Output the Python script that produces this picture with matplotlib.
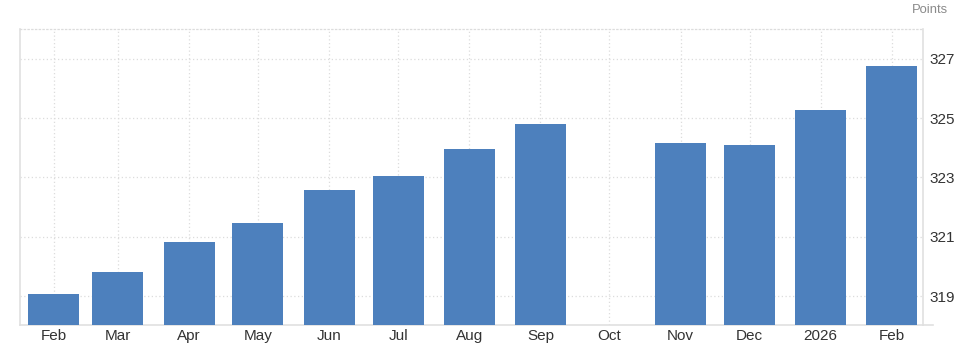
import datetime as dt
import numpy as np
import matplotlib
matplotlib.use('Agg')
import matplotlib.pyplot as plt
import matplotlib.dates as mdates
from matplotlib.lines import Line2D

# monthly index values, Oct 2025 missing
months = ['2025-02-01', '2025-03-01', '2025-04-01', '2025-05-01', '2025-06-01',
          '2025-07-01', '2025-08-01', '2025-09-01', '2025-10-01', '2025-11-01',
          '2025-12-01', '2026-01-01', '2026-02-01']
values = [319.08, 319.83, 320.81, 321.45, 322.57, 323.04, 323.95, 324.80,
          np.nan, 324.15, 324.08, 325.26, 326.77]
tick_labels = ['Feb', 'Mar', 'Apr', 'May', 'Jun', 'Jul', 'Aug', 'Sep',
               'Oct', 'Nov', 'Dec', '2026', 'Feb']
y_ticks = [319, 321, 323, 325, 327]

BAR_COLOR = '#4d80bd'
GRID_COLOR = '#dcdcdc'
TEXT_COLOR = '#333333'

plt.rcParams['font.family'] = ['Liberation Sans', 'DejaVu Sans']

dates = [dt.datetime.strptime(m, '%Y-%m-%d') for m in months]
x = mdates.date2num(dates)

fig = plt.figure(figsize=(9.6, 3.58), dpi=100)
ax = fig.add_axes([0.0208, 0.0922, 0.9406, 0.8268])

ax.bar(x, values, width=22.2, color=BAR_COLOR, zorder=3)

ax.set_xlim(x[0] - 14.6, x[-1] + 13.5)
ax.set_ylim(318.03, 328.0)

ax.set_xticks(x)
ax.set_xticklabels(tick_labels)
ax.set_yticks(y_ticks)
ax.yaxis.tick_right()
ax.tick_params(axis='both', length=0, labelsize=11, labelcolor=TEXT_COLOR)
ax.tick_params(axis='x', pad=3)
ax.tick_params(axis='y', pad=5)

ax.grid(True, color=GRID_COLOR, linestyle=(0, (1, 2)), linewidth=0.9, zorder=0)

for side in ['left', 'right', 'bottom']:
    ax.spines[side].set_color('#e0e0e0')
    ax.spines[side].set_linewidth(1.2)
ax.spines['top'].set_color(GRID_COLOR)
ax.spines['top'].set_linestyle((0, (1, 2)))
ax.spines['top'].set_linewidth(0.9)

# bottom axis line runs a little past the right spine
fig.add_artist(Line2D([0.9614, 0.972], [0.0922, 0.0922], color='#e0e0e0', linewidth=1.2))

fig.text(0.988, 0.99, 'Points', ha='right', va='top', fontsize=9.4, color='#8a8a8a')

fig.savefig('out.png', dpi=100)
